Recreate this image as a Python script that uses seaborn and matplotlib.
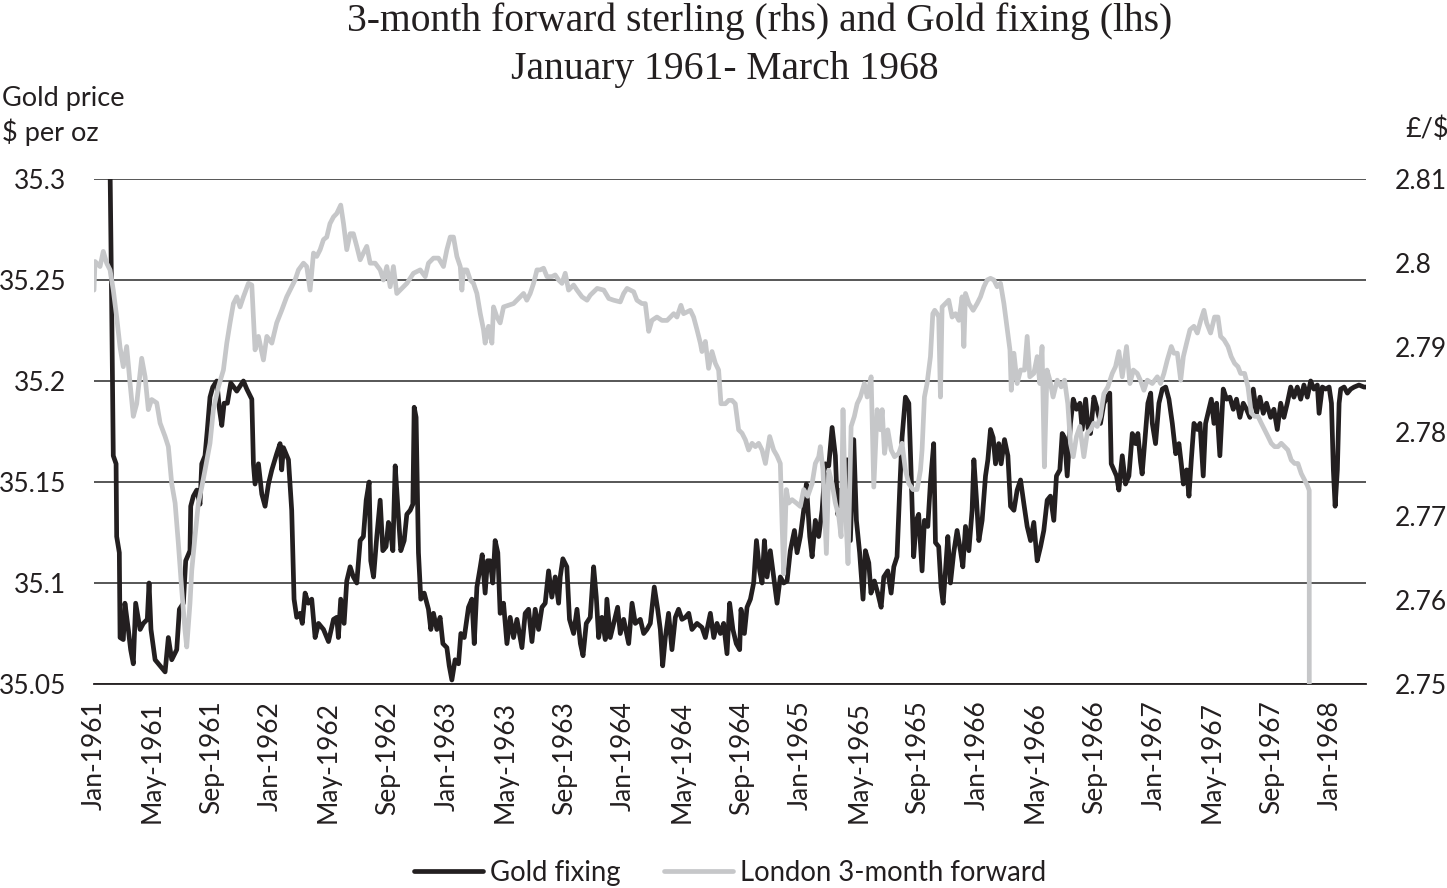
import numpy as np
import pandas as pd
import matplotlib
matplotlib.use("Agg")
import matplotlib.pyplot as plt
import matplotlib.dates as mdates
import seaborn as sns

# ---------------- data ----------------
# time is given in months since January 1961
gold_months = [
    0.0, 0.95, 1.1, 1.2, 1.31, 1.5, 1.54, 1.72, 1.77, 1.99, 2.1, 2.33, 2.49, 2.67, 2.83,
    3.13, 3.35, 3.62, 3.74, 3.87, 4.15, 4.49, 4.83, 5.05, 5.28, 5.62, 5.8, 6.07, 6.23,
    6.52, 6.57, 6.75, 6.98, 7.2, 7.32, 7.54, 7.7, 7.88, 8.07, 8.34, 8.52, 8.68, 8.84,
    9.06, 9.29, 9.7, 10.15, 10.38, 10.72, 10.83, 10.94, 11.17, 11.4, 11.62, 11.85,
    12.08, 12.41, 12.64, 12.75, 12.87, 13.21, 13.43, 13.59, 13.77,
    14.0, 14.15, 14.34, 14.56, 14.79, 15.02, 15.25, 15.59, 15.93, 16.27, 16.49, 16.6,
    16.76, 16.99, 17.17, 17.4, 17.62, 17.85, 18.08, 18.3, 18.49, 18.69, 18.8, 18.99,
    19.21, 19.44, 19.62, 19.84, 20.0, 20.12, 20.3, 20.46, 20.68, 20.84, 21.07, 21.25,
    21.48, 21.66, 21.75, 21.88, 22.04, 22.2, 22.43, 22.72, 22.88, 23.06, 23.29, 23.51,
    23.7, 23.97, 24.13, 24.31, 24.53, 24.76, 24.92, 25.15, 25.44, 25.67, 25.83, 26.01,
    26.24, 26.37, 26.57, 26.73, 26.91, 27.09, 27.25, 27.43, 27.59, 27.82, 28.05, 28.27,
    28.5, 28.73, 29.07, 29.29, 29.52, 29.75, 29.97, 30.2, 30.43, 30.65, 30.88, 31.1,
    31.33, 31.56, 31.67, 31.85, 32.12, 32.3, 32.58, 32.81, 33.04, 33.22, 33.44, 33.71,
    33.94, 34.12, 34.28, 34.5, 34.73, 34.84, 35.07, 35.3, 35.57, 35.75, 35.98, 36.32,
    36.55, 36.77, 37.11, 37.34, 37.56, 37.79, 38.06, 38.29, 38.47, 38.63, 38.81, 39.03,
    39.26, 39.49, 39.71, 39.94, 40.17, 40.4, 40.62, 40.96, 41.3, 41.53, 41.87, 42.1,
    42.32, 42.55, 42.77, 43.0, 43.18, 43.4, 43.63, 43.86, 43.95, 44.18, 44.36, 44.59,
    44.81, 45.0, 45.22, 45.38, 45.54, 45.72, 45.94, 46.17, 46.4, 46.62, 46.85, 47.08,
    47.3, 47.58, 47.76, 47.98, 48.21, 48.39, 48.62, 48.78, 49.0, 49.23, 49.46, 49.68,
    49.91, 50.14, 50.36, 50.52, 50.7, 50.93, 51.15, 51.38, 51.61, 51.79, 52.01, 52.24,
    52.4, 52.63, 52.78, 53.01, 53.24, 53.47, 53.65, 53.92, 54.15, 54.33, 54.55, 54.73,
    54.89, 55.12, 55.35, 55.5, 55.68, 55.86, 56.02, 56.25, 56.41, 56.64, 56.82, 57.04,
    57.16, 57.38, 57.54, 57.68, 57.84, 58.0, 58.18, 58.4, 58.63, 58.86, 59.02, 59.2,
    59.43, 59.65, 59.77, 59.95, 60.11, 60.33, 60.56, 60.72, 60.9, 61.08, 61.24, 61.46,
    61.62, 61.85, 62.08, 62.26, 62.49, 62.71, 62.94, 63.17, 63.39, 63.62, 63.84, 64.07,
    64.3, 64.52, 64.75, 64.97, 65.2, 65.38, 65.61, 65.77, 65.93, 66.11, 66.33, 66.52,
    66.74, 66.97, 67.13, 67.36, 67.52, 67.69, 67.92, 68.15, 68.37, 68.6, 68.83, 69.0,
    69.1, 69.28, 69.46, 69.62, 69.85, 70.07, 70.3, 70.53, 70.75, 70.91, 71.09, 71.2,
    71.37, 71.59, 71.78, 71.89, 72.11, 72.34, 72.57, 72.8, 73.02, 73.25, 73.48, 73.7,
    73.86, 74.0, 74.22, 74.38, 74.54, 74.72, 74.95, 75.13, 75.35, 75.51, 75.74, 75.9,
    76.08, 76.26, 76.48, 76.71, 76.94, 77.16, 77.39, 77.61, 77.84, 78.07, 78.29, 78.52,
    78.75, 78.97, 79.2, 79.43, 79.65, 79.93, 80.15, 80.38, 80.61, 80.83, 81.06, 81.29,
    81.51, 81.74, 81.97, 82.19, 82.42, 82.65, 82.87, 83.1, 83.22, 83.44, 83.67, 83.9,
    84.06, 84.19, 84.31, 84.46, 84.58, 84.69, 84.92, 85.14, 85.37, 85.6, 85.93, 86.27,
    86.5,
]
gold_price = [
    35.50, 35.33, 35.30, 35.238, 35.163, 35.159, 35.123, 35.115, 35.073, 35.072, 35.09,
    35.077, 35.067, 35.06, 35.09, 35.077, 35.08, 35.082, 35.1, 35.077, 35.062, 35.059,
    35.056, 35.073, 35.062, 35.067, 35.087, 35.09, 35.111, 35.116, 35.138, 35.143,
    35.146, 35.139, 35.159, 35.163, 35.176, 35.192, 35.197, 35.2, 35.186, 35.178,
    35.189, 35.189, 35.199, 35.195, 35.2, 35.196, 35.191, 35.159, 35.149, 35.159,
    35.144, 35.138, 35.149, 35.156, 35.164, 35.169, 35.156, 35.167, 35.161, 35.136,
    35.092, 35.083,
    35.085, 35.08, 35.095, 35.09, 35.092, 35.073, 35.08, 35.077, 35.071, 35.082, 35.083,
    35.073, 35.092, 35.08, 35.101, 35.108, 35.103, 35.1, 35.121, 35.123, 35.141, 35.15,
    35.111, 35.103, 35.123, 35.141, 35.116, 35.118, 35.13, 35.127, 35.116, 35.158,
    35.133, 35.116, 35.121, 35.134, 35.136, 35.139, 35.187, 35.182, 35.115, 35.092,
    35.095, 35.087, 35.077, 35.085, 35.077, 35.083, 35.07, 35.068, 35.059, 35.052,
    35.062, 35.06, 35.075, 35.073, 35.088, 35.092, 35.07, 35.098, 35.108, 35.114,
    35.095, 35.111, 35.111, 35.1, 35.121, 35.115, 35.085, 35.09, 35.07, 35.083,
    35.073, 35.082, 35.068, 35.085, 35.087, 35.071, 35.087, 35.077, 35.088, 35.09,
    35.106, 35.093, 35.103, 35.09, 35.103, 35.112, 35.108, 35.082, 35.075, 35.087,
    35.07, 35.064, 35.08, 35.083, 35.108, 35.093, 35.073, 35.083, 35.072, 35.092,
    35.073, 35.08, 35.088, 35.075, 35.082, 35.07, 35.09, 35.08, 35.082, 35.075, 35.077,
    35.08, 35.098, 35.087, 35.077, 35.059, 35.073, 35.085, 35.067, 35.083, 35.087,
    35.082, 35.083, 35.085, 35.077, 35.08, 35.078, 35.073, 35.085, 35.073, 35.08,
    35.075, 35.08, 35.065, 35.09, 35.077, 35.07, 35.067, 35.087, 35.075, 35.088,
    35.092, 35.1, 35.121, 35.106, 35.1, 35.121, 35.103, 35.116, 35.103, 35.09, 35.103,
    35.1, 35.101, 35.116, 35.126, 35.115, 35.123, 35.136, 35.149, 35.123, 35.113,
    35.131, 35.123, 35.136, 35.159, 35.158, 35.177, 35.163, 35.134, 35.146, 35.143,
    35.161, 35.121, 35.171, 35.131, 35.115, 35.092, 35.116, 35.11, 35.095, 35.101,
    35.095, 35.088, 35.103, 35.106, 35.095, 35.108, 35.113, 35.146, 35.172, 35.192,
    35.189, 35.156, 35.113, 35.131, 35.134, 35.106, 35.131, 35.128, 35.15, 35.169,
    35.12, 35.118, 35.098, 35.09, 35.106, 35.123, 35.1, 35.115, 35.126, 35.116, 35.108,
    35.128, 35.116, 35.136, 35.161, 35.141, 35.121, 35.131, 35.153, 35.161, 35.176,
    35.172, 35.159, 35.169, 35.159, 35.171, 35.163, 35.138, 35.136, 35.146, 35.151,
    35.139, 35.128, 35.121, 35.13, 35.111, 35.118, 35.126, 35.141, 35.143, 35.131,
    35.153, 35.156, 35.174, 35.172, 35.153, 35.179, 35.191, 35.186, 35.189, 35.176,
    35.191, 35.177, 35.174, 35.192, 35.186, 35.179, 35.189, 35.192, 35.194, 35.159,
    35.156, 35.153, 35.146, 35.163, 35.149, 35.153, 35.174, 35.169, 35.174, 35.16,
    35.154, 35.169, 35.189, 35.194, 35.179, 35.169, 35.189, 35.196, 35.197, 35.191,
    35.179, 35.164, 35.169, 35.159, 35.149, 35.156, 35.143, 35.161, 35.179, 35.176,
    35.179, 35.153, 35.179, 35.186, 35.191, 35.179, 35.189, 35.163, 35.196, 35.191,
    35.192, 35.186, 35.191, 35.182, 35.189, 35.186, 35.182, 35.196, 35.184, 35.192,
    35.184, 35.189, 35.182, 35.186, 35.176, 35.189, 35.182, 35.189, 35.197, 35.192,
    35.197, 35.191, 35.198, 35.192, 35.2, 35.196, 35.198, 35.184, 35.197, 35.196,
    35.197, 35.189, 35.156, 35.138, 35.156, 35.189, 35.196, 35.197, 35.194, 35.196,
    35.197, 35.198, 35.197, 35.197,
]

fwd_months = [
    0.0, 0.07, 0.41, 0.63, 0.86, 1.09, 1.31, 1.54, 1.77, 1.99, 2.22, 2.45, 2.67, 2.9,
    3.24, 3.47, 3.69, 3.92, 4.26, 4.49, 4.83, 5.05, 5.28, 5.51, 5.73, 5.96, 6.18, 6.3,
    6.52, 6.64, 6.86, 7.09, 7.32, 7.54, 7.88, 8.11, 8.45, 8.79, 9.02, 9.24, 9.47, 9.7,
    9.92, 10.15, 10.49, 10.72, 10.94, 11.17, 11.51, 11.74, 12.08, 12.41, 12.75, 13.09,
    13.32, 13.66, 13.89,
    14.23, 14.45, 14.68, 14.91, 15.13, 15.36, 15.59, 15.81, 16.03, 16.27, 16.49, 16.76,
    16.95, 17.17, 17.4, 17.62, 17.85, 18.08, 18.3, 18.53, 18.76, 19.1, 19.44, 19.66,
    19.89, 20.12, 20.34, 20.57, 20.8, 21.25, 21.7, 22.16, 22.5, 22.72, 23.06, 23.4,
    23.74, 23.97, 24.2, 24.42, 24.65, 24.88, 24.99, 25.1, 25.33, 25.56, 25.78, 26.01,
    26.24, 26.46, 26.57, 26.8, 27.03, 27.14, 27.37, 27.59, 27.82, 28.16, 28.5,
    28.95, 29.18, 29.4, 29.63, 29.86, 30.09, 30.31, 30.54, 30.77, 31.11, 31.33, 31.56,
    31.79, 32.01, 32.24, 32.58, 32.81, 33.15, 33.49, 33.71, 34.18, 34.63, 34.97, 35.3,
    35.75, 35.98, 36.21, 36.66, 36.88, 37.22, 37.45, 37.68, 37.9, 38.24, 38.58, 38.93,
    39.15, 39.38, 39.6, 39.87, 40.05, 40.51, 40.73, 40.96, 41.19, 41.3, 41.53, 41.75,
    41.98, 42.21, 42.43, 42.59,
    42.89, 43.11, 43.34, 43.56, 43.79, 44.02, 44.25, 44.47, 44.7, 44.93, 45.15, 45.38,
    45.61, 45.9, 46.17, 46.4, 46.62, 46.74, 46.85, 47.03, 47.19, 47.42, 47.71, 47.98,
    48.21, 48.48, 48.78, 49.0, 49.23, 49.34, 49.52, 49.75, 49.91, 50.14, 50.36, 50.59,
    50.75, 50.88, 51.04, 51.22, 51.43, 51.65, 51.84, 52.06, 52.33, 52.52, 52.79, 52.97,
    53.2, 53.42, 53.54, 53.7, 53.92, 54.15, 54.38, 54.67, 54.89, 55.12, 55.35, 55.64,
    55.91, 56.14, 56.25, 56.41, 56.59, 56.82, 56.98, 57.11, 57.27, 57.38,
    57.5, 57.61, 57.84, 58.06, 58.29, 58.52, 58.75, 58.97, 59.09, 59.2, 59.43, 59.72,
    59.99, 60.22, 60.45, 60.67, 60.9, 61.13, 61.35, 61.58, 61.81, 62.04, 62.22, 62.31,
    62.49, 62.71, 62.94, 63.21, 63.39, 63.57, 63.84, 64.07, 64.25, 64.4, 64.56, 64.74,
    64.93, 65.15, 65.43, 65.7, 65.93, 66.15, 66.33, 66.52, 66.74, 66.97, 67.24, 67.47,
    67.69, 67.92, 68.15, 68.37, 68.6, 68.87, 69.17, 69.39, 69.62, 69.85, 70.14, 70.37,
    70.6, 70.87, 71.1,
    71.32, 71.55, 71.89, 72.23, 72.45, 72.68, 72.91, 73.18, 73.36, 73.59, 73.82, 74.0,
    74.22, 74.45, 74.72, 74.95, 75.18, 75.4, 75.58, 75.85, 76.12, 76.35, 76.53, 76.76,
    77.03, 77.25, 77.48, 77.71, 77.89, 78.16, 78.39, 78.61, 78.84, 79.07, 79.29, 79.52,
    79.75, 79.97, 80.2, 80.43, 80.65, 80.88, 81.1, 81.33, 81.56, 81.78, 82.01, 82.24,
    82.42, 82.55, 82.62,
]
fwd_rate = [
    2.7968, 2.8002, 2.7996, 2.8014, 2.8000, 2.7992, 2.7968, 2.7936, 2.7900, 2.7877,
    2.7901, 2.7857, 2.7818, 2.7833, 2.7887, 2.7865, 2.7826, 2.7838, 2.7834, 2.7810,
    2.7794, 2.7782, 2.7738, 2.7715, 2.7667, 2.7612, 2.7564, 2.7544, 2.7596, 2.7635,
    2.7675, 2.7715, 2.7734, 2.7754, 2.7786, 2.7826, 2.7853, 2.7873, 2.7905, 2.7929,
    2.7952, 2.7960, 2.7948, 2.7960, 2.7976, 2.7974, 2.7897, 2.7913, 2.7885, 2.7913,
    2.7905, 2.7929, 2.7944, 2.7960, 2.7968, 2.7980, 2.7992,
    2.8000, 2.7996, 2.7968, 2.8012, 2.8008, 2.8016, 2.8028, 2.8031, 2.8047, 2.8055,
    2.8059, 2.8069, 2.8047, 2.8016, 2.8035, 2.8035, 2.8020, 2.8004, 2.8012, 2.8020,
    2.8000, 2.8000, 2.7992, 2.7980, 2.7996, 2.7972, 2.7996, 2.7964, 2.7968, 2.7976,
    2.7988, 2.7992, 2.7984, 2.8000, 2.8006, 2.8006, 2.7996, 2.8016, 2.8031, 2.8031,
    2.8008, 2.7996, 2.7968, 2.7992, 2.7992, 2.7980, 2.7976, 2.7964, 2.7940, 2.7921,
    2.7905, 2.7925, 2.7905, 2.7948, 2.7936, 2.7929, 2.7948, 2.7950, 2.7952,
    2.7960, 2.7964, 2.7956, 2.7964, 2.7976, 2.7992, 2.7992, 2.7994, 2.7984, 2.7984,
    2.7986, 2.7980, 2.7976, 2.7988, 2.7968, 2.7974, 2.7968, 2.7960, 2.7956, 2.7962,
    2.7970, 2.7968, 2.7958, 2.7956, 2.7954, 2.7964, 2.7970, 2.7966, 2.7956, 2.7952,
    2.7952, 2.7919, 2.7932, 2.7936, 2.7932, 2.7932, 2.7936, 2.7940, 2.7936, 2.7950,
    2.7940, 2.7944, 2.7936, 2.7921, 2.7905, 2.7895, 2.7907, 2.7875, 2.7895, 2.7881,
    2.7873, 2.7833,
    2.7833, 2.7837, 2.7837, 2.7833, 2.7802, 2.7798, 2.7790, 2.7778, 2.7786, 2.7782,
    2.7786, 2.7778, 2.7762, 2.7794, 2.7778, 2.7771, 2.7762, 2.7691, 2.7631, 2.7731,
    2.7715, 2.7719, 2.7715, 2.7711, 2.7731, 2.7723, 2.7738, 2.7762, 2.7770, 2.7782,
    2.7754, 2.7655, 2.7754, 2.7738, 2.7715, 2.7699, 2.7675, 2.7826, 2.7711, 2.7643,
    2.7806, 2.7818, 2.7833, 2.7841, 2.7857, 2.7841, 2.7865, 2.7734, 2.7826, 2.7802,
    2.7826, 2.7774, 2.7802, 2.7778, 2.7770, 2.7774, 2.7786, 2.7754, 2.7738, 2.7731,
    2.7731, 2.7754, 2.7778, 2.7841, 2.7857, 2.7889, 2.7940, 2.7944, 2.7940, 2.7936,
    2.7841, 2.7948, 2.7952, 2.7956, 2.7936, 2.7940, 2.7932, 2.7960, 2.7901, 2.7964,
    2.7952, 2.7944, 2.7952, 2.7960, 2.7972, 2.7980, 2.7982, 2.7980, 2.7972, 2.7976,
    2.7952, 2.7921, 2.7897, 2.7849, 2.7893, 2.7857, 2.7873, 2.7873, 2.7913, 2.7865,
    2.7869, 2.7889, 2.7857, 2.7901, 2.7758, 2.7873, 2.7861, 2.7841, 2.7861, 2.7853,
    2.7861, 2.7833, 2.7786, 2.7770, 2.7794, 2.7806, 2.7770, 2.7798, 2.7802, 2.7810,
    2.7806, 2.7818, 2.7845, 2.7853, 2.7869, 2.7877, 2.7895, 2.7865, 2.7901, 2.7857,
    2.7873, 2.7869, 2.7860,
    2.7849, 2.7861, 2.7857, 2.7865, 2.7857, 2.7869, 2.7885, 2.7901, 2.7893, 2.7893,
    2.7861, 2.7889, 2.7905, 2.7921, 2.7925, 2.7917, 2.7932, 2.7944, 2.7929, 2.7917,
    2.7936, 2.7936, 2.7913, 2.7909, 2.7901, 2.7889, 2.7881, 2.7877, 2.7869, 2.7869,
    2.7853, 2.7822, 2.7818, 2.7818, 2.7810, 2.7802, 2.7794, 2.7786, 2.7782, 2.7782,
    2.7786, 2.7782, 2.7778, 2.7766, 2.7762, 2.7762, 2.7750, 2.7742, 2.7736, 2.7730,
    2.4000,
]

gold_ticks = [35.05, 35.1, 35.15, 35.2, 35.25, 35.3]
gold_tick_labels = ["35.05", "35.1", "35.15", "35.2", "35.25", "35.3"]
fwd_ticks = [2.75, 2.76, 2.77, 2.78, 2.79, 2.8, 2.81]
fwd_tick_labels = ["2.75", "2.76", "2.77", "2.78", "2.79", "2.8", "2.81"]

title_line1 = "3-month forward sterling (rhs) and Gold fixing (lhs)"
title_line2 = "January 1961- March 1968"
left_label = ["Gold price", "$ per oz"]
right_label = "£/$"
series_names = ["Gold fixing", "London 3-month forward"]

# ---------------- build frames ----------------
start = pd.Timestamp("1961-01-01")
def to_dates(months):
    return start + pd.to_timedelta(np.asarray(months) * 30.4375, unit="D")

gold_df = pd.DataFrame({"date": to_dates(gold_months), "price": gold_price})
fwd_df = pd.DataFrame({"date": to_dates(fwd_months), "rate": fwd_rate})

# ---------------- style ----------------
sns.set_style("white")
plt.rcParams["font.family"] = ["Lato", "DejaVu Sans"]
ink = "#231f20"
black_line = "#231f20"
grey_line = "#c6c7c9"

W, H = 1447, 888
fig = plt.figure(figsize=(W / 100, H / 100), dpi=100)
ax = fig.add_axes([94 / W, 1 - 684 / H, (1366 - 94) / W, (684 - 179) / H])
ax2 = ax.twinx()

sns.lineplot(data=gold_df, x="date", y="price", ax=ax, color=black_line,
             linewidth=3.4, label=series_names[0], estimator=None, sort=False)
sns.lineplot(data=fwd_df, x="date", y="rate", ax=ax2, color=grey_line,
             linewidth=3.4, label=series_names[1], estimator=None, sort=False)

ax.set_ylim(35.05, 35.3)
ax.set_yticks(gold_ticks)
ax.set_yticklabels(gold_tick_labels)
ax2.set_ylim(2.75, 2.81)
ax2.set_yticks(fwd_ticks)
ax2.set_yticklabels(fwd_tick_labels)

ax.set_xlim(pd.Timestamp("1961-01-01"), pd.Timestamp("1968-03-15"))
ax.xaxis.set_major_locator(mdates.MonthLocator(bymonth=[1, 5, 9]))
ax.xaxis.set_major_formatter(mdates.DateFormatter("%b-%Y"))

for a in (ax, ax2):
    a.set_xlabel("")
    a.set_ylabel("")

ax.grid(axis="y", color="#3a3a3a", linewidth=1.2)
ax.grid(axis="x", visible=False)
ax.set_axisbelow(True)

for s in ("top", "right", "left"):
    ax.spines[s].set_visible(False)
ax.spines["bottom"].set_color(ink)
ax.spines["bottom"].set_linewidth(1.3)
for s in ax2.spines.values():
    s.set_visible(False)

ax.tick_params(axis="x", direction="out", length=7, width=1.2, color=ink,
               labelsize=19, labelcolor=ink, pad=5, labelrotation=90)
ax.tick_params(axis="y", length=0, labelsize=19, labelcolor=ink, pad=20)
ax2.tick_params(axis="y", length=0, labelsize=19, labelcolor=ink, pad=21)

# legend
h1, l1 = ax.get_legend_handles_labels()
h2, l2 = ax2.get_legend_handles_labels()
for a in (ax, ax2):
    if a.get_legend() is not None:
        a.get_legend().remove()
leg = fig.legend(h1 + h2, l1 + l2, loc="center", bbox_to_anchor=(730 / W, 1 - 873 / H),
                 ncol=2, frameon=False, fontsize=19.8, handlelength=2.5,
                 handletextpad=0.25, columnspacing=1.6)
for t in leg.get_texts():
    t.set_color(ink)

# titles and axis captions
fig.text(760 / W, 1 - 31 / H, title_line1, ha="center", va="baseline",
         fontsize=28.5, family=["Liberation Serif", "DejaVu Serif"], color=ink)
fig.text(725 / W, 1 - 79 / H, title_line2, ha="center", va="baseline",
         fontsize=28.5, family=["Liberation Serif", "DejaVu Serif"], color=ink)
fig.text(2 / W, 1 - 106 / H, left_label[0], ha="left", va="baseline", fontsize=19.5, color=ink)
fig.text(2 / W, 1 - 141 / H, left_label[1], ha="left", va="baseline", fontsize=19.5, color=ink)
fig.text(1405 / W, 1 - 137 / H, right_label, ha="left", va="baseline", fontsize=19.5, color=ink)

fig.savefig("out.png", dpi=100)
